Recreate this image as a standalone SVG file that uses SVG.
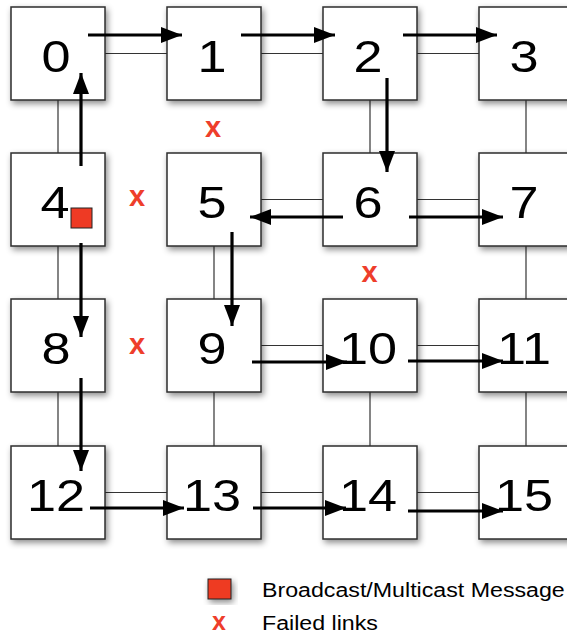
<svg xmlns="http://www.w3.org/2000/svg" width="567" height="636" viewBox="0 0 567 636">
<defs>
<filter id="sh" x="-20%" y="-20%" width="150%" height="150%">
<feDropShadow dx="2" dy="3" stdDeviation="3" flood-color="#000" flood-opacity="0.45"/>
</filter>
<marker id="ah" markerUnits="userSpaceOnUse" markerWidth="21" markerHeight="16" refX="21" refY="8" orient="auto">
<path d="M0,0 L21,8 L0,16 z" fill="#000"/>
</marker>
<style>
.box{fill:#fff;stroke:#2e2e2e;stroke-width:1.5;filter:url(#sh)}
.lbl{font-family:"Liberation Sans",Arial,sans-serif;font-size:45px;fill:#000;text-anchor:middle}
.link{stroke:#333;stroke-width:1.2;fill:none}
.arr{stroke:#000;stroke-width:3.2;fill:none;marker-end:url(#ah)}
.fail{font-family:"Liberation Sans",Arial,sans-serif;font-weight:bold;font-size:29px;fill:#ee3e2b;text-anchor:middle}
.leg{font-family:"Liberation Sans",Arial,sans-serif;font-size:20px;fill:#000}
.msg{fill:#ee3a24;stroke:#222;stroke-width:1}
</style>
</defs>
<rect width="567" height="636" fill="#fff"/>
<g id="links">
<line class="link" x1="105" y1="53.5" x2="167" y2="53.5"/>
<line class="link" x1="261" y1="53.5" x2="323" y2="53.5"/>
<line class="link" x1="417" y1="53.5" x2="479" y2="53.5"/>
<line class="link" x1="261" y1="199.5" x2="323" y2="199.5"/>
<line class="link" x1="417" y1="199.5" x2="479" y2="199.5"/>
<line class="link" x1="261" y1="345.5" x2="323" y2="345.5"/>
<line class="link" x1="417" y1="345.5" x2="479" y2="345.5"/>
<line class="link" x1="105" y1="492.5" x2="167" y2="492.5"/>
<line class="link" x1="261" y1="492.5" x2="323" y2="492.5"/>
<line class="link" x1="417" y1="492.5" x2="479" y2="492.5"/>
<line class="link" x1="58" y1="100" x2="58" y2="153"/>
<line class="link" x1="58" y1="246" x2="58" y2="299"/>
<line class="link" x1="58" y1="392" x2="58" y2="446"/>
<line class="link" x1="370" y1="100" x2="370" y2="153"/>
<line class="link" x1="526" y1="100" x2="526" y2="153"/>
<line class="link" x1="214" y1="246" x2="214" y2="299"/>
<line class="link" x1="526" y1="246" x2="526" y2="299"/>
<line class="link" x1="214" y1="392" x2="214" y2="446"/>
<line class="link" x1="370" y1="392" x2="370" y2="446"/>
<line class="link" x1="526" y1="392" x2="526" y2="446"/>
</g>
<g id="n0"><rect class="box" x="11" y="7" width="94" height="93"/><text class="lbl" transform="translate(56,71.5) scale(1.16,1)">0</text></g>
<g id="n1"><rect class="box" x="167" y="7" width="94" height="93"/><text class="lbl" transform="translate(212,71.5) scale(1.16,1)">1</text></g>
<g id="n2"><rect class="box" x="323" y="7" width="94" height="93"/><text class="lbl" transform="translate(368,71.5) scale(1.16,1)">2</text></g>
<g id="n3"><rect class="box" x="479" y="7" width="94" height="93"/><text class="lbl" transform="translate(524,71.5) scale(1.16,1)">3</text></g>
<g id="n4"><rect class="box" x="11" y="153" width="94" height="93"/><text class="lbl" transform="translate(55,217.5) scale(1.16,1)">4</text><rect class="msg" x="71" y="208" width="21" height="20"/></g>
<g id="n5"><rect class="box" x="167" y="153" width="94" height="93"/><text class="lbl" transform="translate(212,217.5) scale(1.16,1)">5</text></g>
<g id="n6"><rect class="box" x="323" y="153" width="94" height="93"/><text class="lbl" transform="translate(368,217.5) scale(1.16,1)">6</text></g>
<g id="n7"><rect class="box" x="479" y="153" width="94" height="93"/><text class="lbl" transform="translate(524,217.5) scale(1.16,1)">7</text></g>
<g id="n8"><rect class="box" x="11" y="299" width="94" height="93"/><text class="lbl" transform="translate(56,363.5) scale(1.16,1)">8</text></g>
<g id="n9"><rect class="box" x="167" y="299" width="94" height="93"/><text class="lbl" transform="translate(212,363.5) scale(1.16,1)">9</text></g>
<g id="n10"><rect class="box" x="323" y="299" width="94" height="93"/><text class="lbl" transform="translate(368,363.5) scale(1.16,1)">10</text></g>
<g id="n11"><rect class="box" x="479" y="299" width="94" height="93"/><text class="lbl" transform="translate(524,363.5) scale(1.16,1)">11</text></g>
<g id="n12"><rect class="box" x="11" y="446" width="94" height="93"/><text class="lbl" transform="translate(56,510.5) scale(1.16,1)">12</text></g>
<g id="n13"><rect class="box" x="167" y="446" width="94" height="93"/><text class="lbl" transform="translate(212,510.5) scale(1.16,1)">13</text></g>
<g id="n14"><rect class="box" x="323" y="446" width="94" height="93"/><text class="lbl" transform="translate(368,510.5) scale(1.16,1)">14</text></g>
<g id="n15"><rect class="box" x="479" y="446" width="94" height="93"/><text class="lbl" transform="translate(524,510.5) scale(1.16,1)">15</text></g>
<g id="arrows">
<line class="arr" x1="88" y1="35" x2="182" y2="35"/>
<line class="arr" x1="241" y1="35" x2="335" y2="35"/>
<line class="arr" x1="403" y1="35" x2="497" y2="35"/>
<line class="arr" x1="81" y1="166" x2="81" y2="73"/>
<line class="arr" x1="81" y1="243" x2="81" y2="337"/>
<line class="arr" x1="81" y1="378" x2="81" y2="471"/>
<line class="arr" x1="387" y1="78" x2="387" y2="172"/>
<line class="arr" x1="343" y1="217" x2="250" y2="217"/>
<line class="arr" x1="409" y1="217" x2="503" y2="217"/>
<line class="arr" x1="232" y1="232" x2="232" y2="326"/>
<line class="arr" x1="252" y1="362" x2="347" y2="362"/>
<line class="arr" x1="408" y1="361" x2="503" y2="361"/>
<line class="arr" x1="90" y1="508" x2="184" y2="508"/>
<line class="arr" x1="253" y1="508" x2="346" y2="508"/>
<line class="arr" x1="408" y1="511" x2="503" y2="511"/>
</g>
<g id="failed">
<text class="fail" x="213" y="137">x</text>
<text class="fail" x="137" y="206">x</text>
<text class="fail" x="369.5" y="282">x</text>
<text class="fail" x="137" y="354">x</text>
</g>
<g id="legend">
<rect class="msg" x="208" y="579" width="23" height="20" style="filter:url(#sh)"/>
<text class="leg" transform="translate(262,597) scale(1.16,1)">Broadcast/Multicast Message</text>
<text class="fail" style="font-size:25px" x="219" y="630">x</text>
<text class="leg" transform="translate(262,630) scale(1.16,1)">Failed links</text>
</g>
</svg>
